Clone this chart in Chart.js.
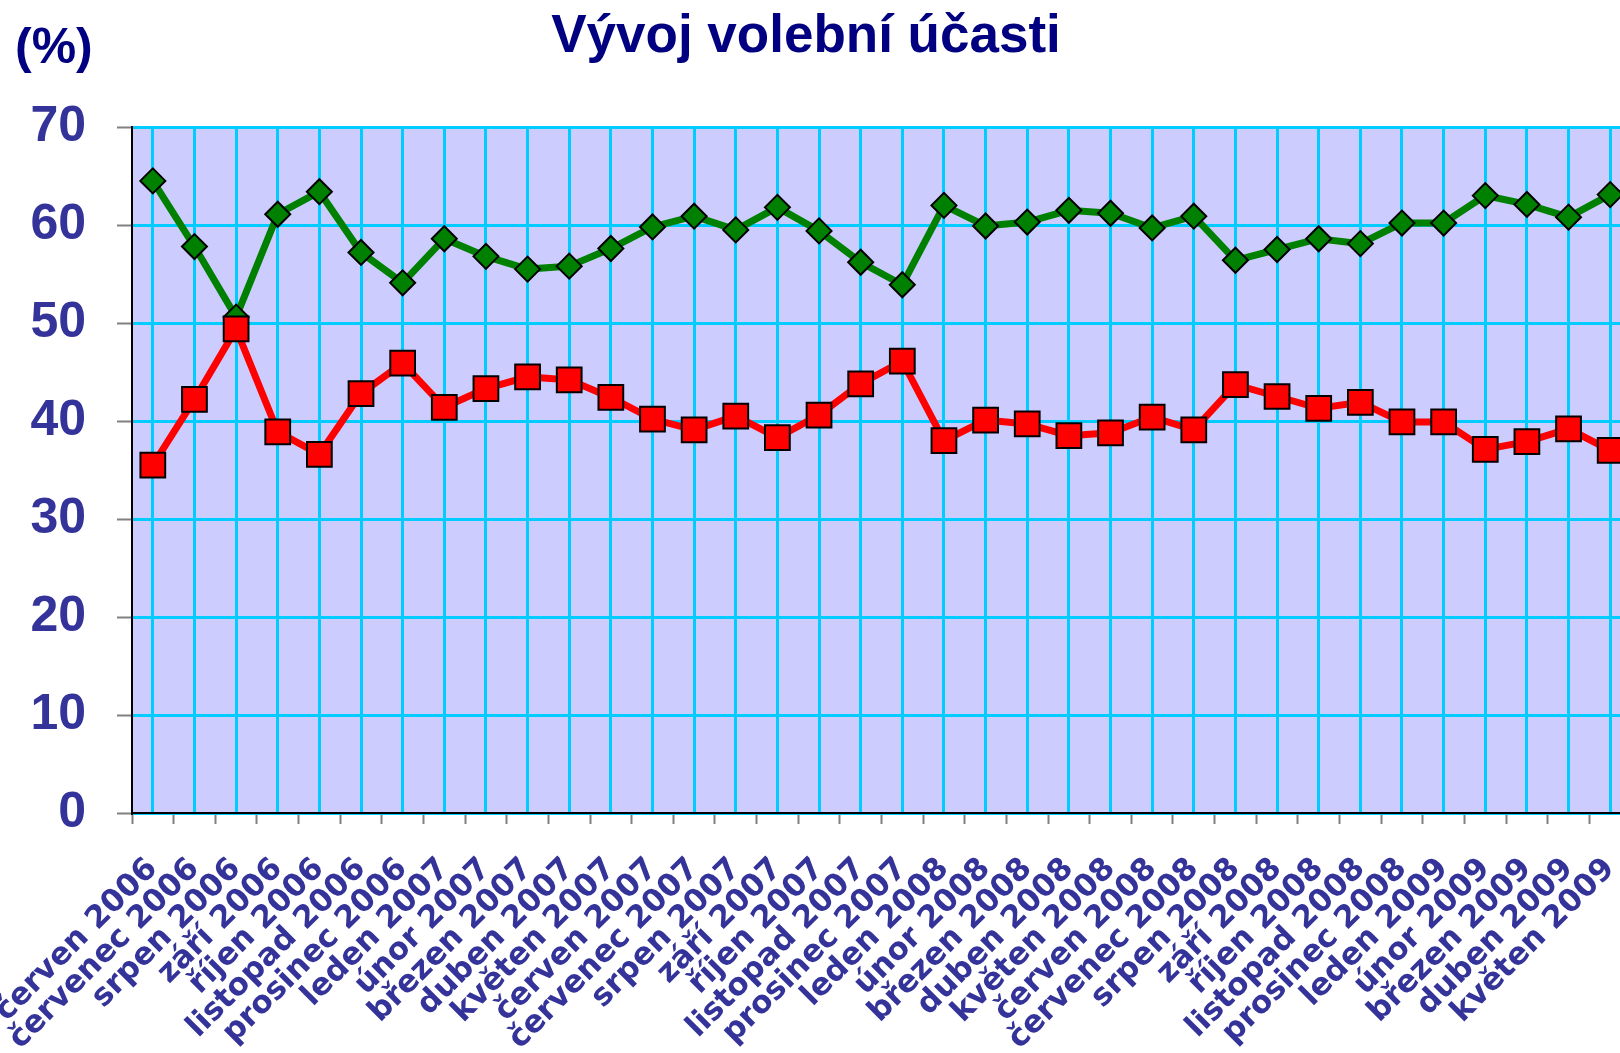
<!DOCTYPE html>
<html lang="cs">
<head>
  <meta charset="UTF-8" />
  <title>Vývoj volební účasti</title>
  <script src="https://cdn.jsdelivr.net/npm/chart.js"></script>
  <style>
    html, body { margin: 0; padding: 0; background: #fff; overflow: hidden; }
    .wrap { position: relative; width: 1660px; height: 1053px; }
  </style>
</head>
<body>
  <div class="wrap"><canvas id="turnoutChart"></canvas></div>

  <script>
    // months of the survey
    const months = [
      'červen 2006', 'červenec 2006', 'srpen 2006', 'září 2006', 'říjen 2006', 'listopad 2006',
      'prosinec 2006', 'leden 2007', 'únor 2007', 'březen 2007', 'duben 2007', 'květen 2007',
      'červen 2007', 'červenec 2007', 'srpen 2007', 'září 2007', 'říjen 2007', 'listopad 2007',
      'prosinec 2007', 'leden 2008', 'únor 2008', 'březen 2008', 'duben 2008', 'květen 2008',
      'červen 2008', 'červenec 2008', 'srpen 2008', 'září 2008', 'říjen 2008', 'listopad 2008',
      'prosinec 2008', 'leden 2009', 'únor 2009', 'březen 2009', 'duben 2009', 'květen 2009'
    ];

    // green line (diamonds)
    const greenSeries = [
      64.5, 57.8, 50.6, 61.1, 63.4, 57.2, 54.1, 58.6, 56.8, 55.5, 55.8, 57.6,
      59.8, 60.9, 59.5, 61.8, 59.4, 56.2, 53.9, 62.0, 59.9, 60.3, 61.5, 61.2,
      59.7, 60.9, 56.4, 57.5, 58.6, 58.1, 60.2, 60.2, 63.0, 62.1, 60.8, 63.1
    ];

    // red line (squares)
    const redSeries = [
      35.5, 42.2, 49.4, 38.9, 36.6, 42.8, 45.9, 41.4, 43.3, 44.5, 44.2, 42.4,
      40.2, 39.1, 40.5, 38.3, 40.6, 43.8, 46.1, 38.0, 40.1, 39.7, 38.5, 38.8,
      40.4, 39.1, 43.7, 42.5, 41.3, 41.9, 39.9, 39.9, 37.1, 37.9, 39.2, 37.0
    ];

    const yMin = 0;
    const yMax = 70;
    const yStep = 10;

    const labelBlue = '#333399';
    const gridCyan = '#00CCFF';

    // lavender plot background
    const plotBackground = {
      id: 'plotBackground',
      beforeDraw(chart) {
        const { ctx, chartArea: a } = chart;
        ctx.save();
        ctx.fillStyle = '#CCCCFF';
        ctx.fillRect(a.left, a.top, a.right - a.left, a.bottom - a.top);
        ctx.restore();
      }
    };

    // title and unit text at the top
    const headerText = {
      id: 'headerText',
      afterDraw(chart) {
        const ctx = chart.ctx;
        ctx.save();
        ctx.fillStyle = '#000080';
        ctx.textBaseline = 'alphabetic';
        ctx.font = 'bold 50px "Liberation Sans", Arial, sans-serif';
        ctx.textAlign = 'left';
        ctx.fillText('(%)', 15, 63);
        ctx.font = 'bold 53px "Liberation Sans", Arial, sans-serif';
        ctx.textAlign = 'center';
        ctx.fillText('Vývoj volební účasti', 806, 52);
        ctx.restore();
      }
    };

    const ctx = document.getElementById('turnoutChart').getContext('2d');
    const turnoutChart = new Chart(ctx, {
      type: 'line',
      data: {
        labels: months,
        datasets: [
          {
            label: 'green',
            data: greenSeries,
            order: 2,
            borderColor: '#008000',
            borderWidth: 7,
            pointStyle: 'rectRot',
            pointRadius: 12.5,
            pointBackgroundColor: '#008000',
            pointBorderColor: '#000',
            pointBorderWidth: 2,
            tension: 0
          },
          {
            label: 'red',
            data: redSeries,
            order: 1,
            borderColor: '#FF0000',
            borderWidth: 7,
            pointStyle: 'rect',
            pointRadius: 17.5,
            pointBackgroundColor: '#FF0000',
            pointBorderColor: '#000',
            pointBorderWidth: 2,
            tension: 0
          }
        ]
      },
      options: {
        responsive: true,
        maintainAspectRatio: false,
        animation: false,
        layout: { padding: { top: 127, right: 29, left: 0, bottom: 0 } },
        plugins: {
          legend: { display: false },
          tooltip: { enabled: false },
          title: { display: false }
        },
        scales: {
          x: {
            type: 'category',
            offset: true,
            grid: {
              offset: true,
              drawOnChartArea: false,
              tickLength: 11,
              tickColor: '#808080',
              tickWidth: 2
            },
            border: { color: '#000', width: 2 },
            ticks: {
              color: labelBlue,
              font: { family: '"DejaVu Sans", Verdana, sans-serif', weight: 'bold', size: 31 },
              maxRotation: 45,
              minRotation: 45,
              autoSkip: false,
              padding: 27
            },
            afterFit(scale) {
              scale.height = 240;
              scale.paddingLeft = 0;
              scale.paddingRight = 0;
            }
          },
          // vertical gridlines through the points
          xGrid: {
            type: 'category',
            position: 'top',
            offset: true,
            grid: { color: gridCyan, lineWidth: 3, drawTicks: false },
            border: { display: false },
            ticks: { display: false },
            afterFit(scale) {
              scale.height = 0;
            }
          },
          y: {
            min: yMin,
            max: yMax,
            ticks: {
              stepSize: yStep,
              color: labelBlue,
              font: { family: '"Liberation Sans", Arial, sans-serif', weight: 'bold', size: 50 },
              padding: 31
            },
            grid: {
              color: gridCyan,
              lineWidth: 3,
              tickColor: '#808080',
              tickLength: 15,
              tickWidth: 2
            },
            border: { color: '#000', width: 2 },
            afterFit(scale) {
              scale.width = 132;
            }
          }
        }
      },
      plugins: [plotBackground, headerText]
    });
  </script>
</body>
</html>
